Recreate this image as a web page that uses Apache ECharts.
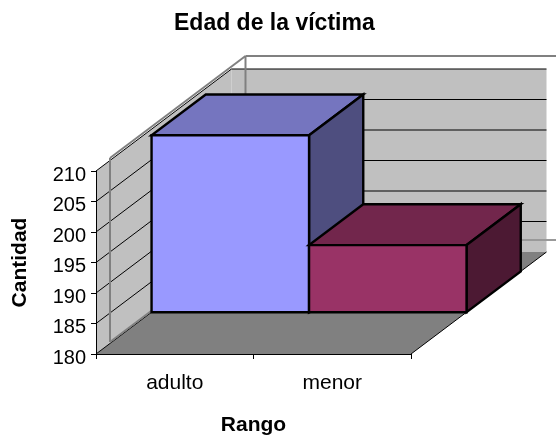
<!DOCTYPE html>
<html><head><meta charset="utf-8">
<style>html,body{margin:0;padding:0;background:#fff}#c{width:556px;height:437px}</style>
<script src="https://cdn.jsdelivr.net/npm/echarts@6/dist/echarts.min.js"></script>
</head><body><div id="c"></div>
<script>
const categories = ['adulto', 'menor'];
const values = [209, 191];
const yTicks = [180, 185, 190, 195, 200, 205, 210];
const frontColors = ['#9999FF', '#993366'];
const topColors = ['#7575BF', '#72264C'];
const sideColors = ['#4E4E7F', '#4C1933'];
const DX = 135.5, DY = -102;       // full depth of the 3D box, in pixels
const BAR_Z0 = 0.41, BAR_Z1 = 0.81;  // bar position inside that depth
const FRAME = {dx: 14, dy: -13, botDy: -12};
const font = 'Liberation Sans, Arial, sans-serif';

function poly(points, fill, stroke, lw) {
  return {type: 'polygon', shape: {points}, style: {fill, stroke: stroke || 'none', lineWidth: lw || 0, lineJoin: 'miter'}};
}
function line(a, b, stroke, lw) {
  return {type: 'line', shape: {x1: a[0], y1: a[1], x2: b[0], y2: b[1]}, style: {stroke, lineWidth: lw, fill: 'none'}};
}
function shift(p, z) { return [p[0] + DX * z, p[1] + DY * z]; }

function renderWalls(params, api) {
  const yMin = yTicks[0], yMax = yTicks[yTicks.length - 1];
  const half = api.size([1, 0])[0] / 2;
  const fl = api.coord([0, yMin]); fl[0] -= half;
  const tl = api.coord([0, yMax]); tl[0] -= half;
  const fr = api.coord([categories.length - 1, yMin]); fr[0] += half;
  const kids = [];
  kids.push(poly([tl, shift(tl, 1), shift(fl, 1), fl], '#C0C0C0'));
  const backRight = shift(fr, 1);
  kids.push(poly([shift(tl, 1), [backRight[0], shift(tl, 1)[1]], backRight, shift(fl, 1)], '#C0C0C0'));
  kids.push(poly([fl, fr, backRight, shift(fl, 1)], '#808080'));
  yTicks.forEach(t => {
    if (t === yMin) return;
    const p = api.coord([0, t]); p[0] -= half;
    const b = shift(p, 1);
    kids.push(line(p, b, '#000', 1));
    kids.push(line(b, [backRight[0], b[1]], '#000', 1));
  });
  kids.push(line(fl, shift(fl, 1), '#000', 1));
  kids.push(line(fr, backRight, '#000', 1));
  // grey frame
  const a = [tl[0] + FRAME.dx, tl[1] + FRAME.dy];
  const aBack = shift(a, 1);
  const b = [fl[0] + FRAME.dx, fl[1] + FRAME.botDy];
  const bBack = shift(b, 1);
  const W = api.getWidth();
  kids.push(line(a, aBack, '#808080', 2));
  kids.push(line(aBack, [W, aBack[1]], '#808080', 2));
  kids.push(line(a, b, '#808080', 2));
  kids.push(line(aBack, bBack, '#808080', 2));
  kids.push(line(b, bBack, '#808080', 2));
  kids.push(line(bBack, [W, bBack[1]], '#999999', 2));
  return {type: 'group', children: kids};
}

function renderBar(params, api) {
  const i = api.value(0), v = api.value(1);
  const half = api.size([1, 0])[0] / 2;
  const t = api.coord([i, v]), b = api.coord([i, yTicks[0]]);
  const bl = shift([b[0] - half, b[1]], BAR_Z0), br = shift([b[0] + half, b[1]], BAR_Z0);
  const tl = shift([t[0] - half, t[1]], BAR_Z0), tr = shift([t[0] + half, t[1]], BAR_Z0);
  const d = BAR_Z1 - BAR_Z0;
  const tlb = shift(tl, d), trb = shift(tr, d), brb = shift(br, d);
  return {type: 'group', children: [
    poly([tl, tr, trb, tlb], topColors[i], '#000', 2.4),
    poly([tr, br, brb, trb], sideColors[i], '#000', 2.4),
    poly([tl, tr, br, bl], frontColors[i], '#000', 2.4)
  ]};
}

const chart = echarts.init(document.getElementById('c'), null, {renderer: 'canvas'});
chart.setOption({
  animation: false,
  backgroundColor: '#fff',
  textStyle: {fontFamily: font},
  title: {text: 'Edad de la víctima', left: 169, top: 7,
    textStyle: {fontFamily: font, fontSize: 23, fontWeight: 'bold', color: '#000'}},
  grid: {left: 96, top: 171, width: 315, height: 183, containLabel: false, outerBoundsMode: 'none'},
  xAxis: {
    type: 'category', data: categories, z: 5,
    name: 'Rango', nameLocation: 'middle', nameGap: 61,
    nameTextStyle: {fontFamily: font, fontSize: 21, fontWeight: 'bold', color: '#000'},
    axisLine: {lineStyle: {color: '#000', width: 1}},
    axisTick: {show: true, length: 5, lineStyle: {color: '#000'}},
    axisLabel: {fontFamily: font, fontSize: 21, color: '#000', margin: 19},
    splitLine: {show: false}
  },
  yAxis: {
    type: 'value', min: 180, max: 210, interval: 5, z: 5,
    name: 'Cantidad', nameLocation: 'middle', nameGap: 65, nameRotate: 90,
    nameTextStyle: {fontFamily: font, fontSize: 21, fontWeight: 'bold', color: '#000'},
    axisLine: {show: true, lineStyle: {color: '#000', width: 1}},
    axisTick: {show: true, length: 5, lineStyle: {color: '#000'}},
    axisLabel: {fontFamily: font, fontSize: 20, color: '#000', margin: 10, verticalAlign: 'top', lineHeight: 8},
    splitLine: {show: false}
  },
  series: [
    {type: 'custom', silent: true, clip: false, z: 1, renderItem: renderWalls, data: [[0]], encode: {x: 0}},
    {type: 'custom', silent: true, clip: false, z: 2, renderItem: renderBar,
      data: values.map((v, i) => [i, v]), encode: {x: 0, y: 1}}
  ]
});
</script></body></html>
